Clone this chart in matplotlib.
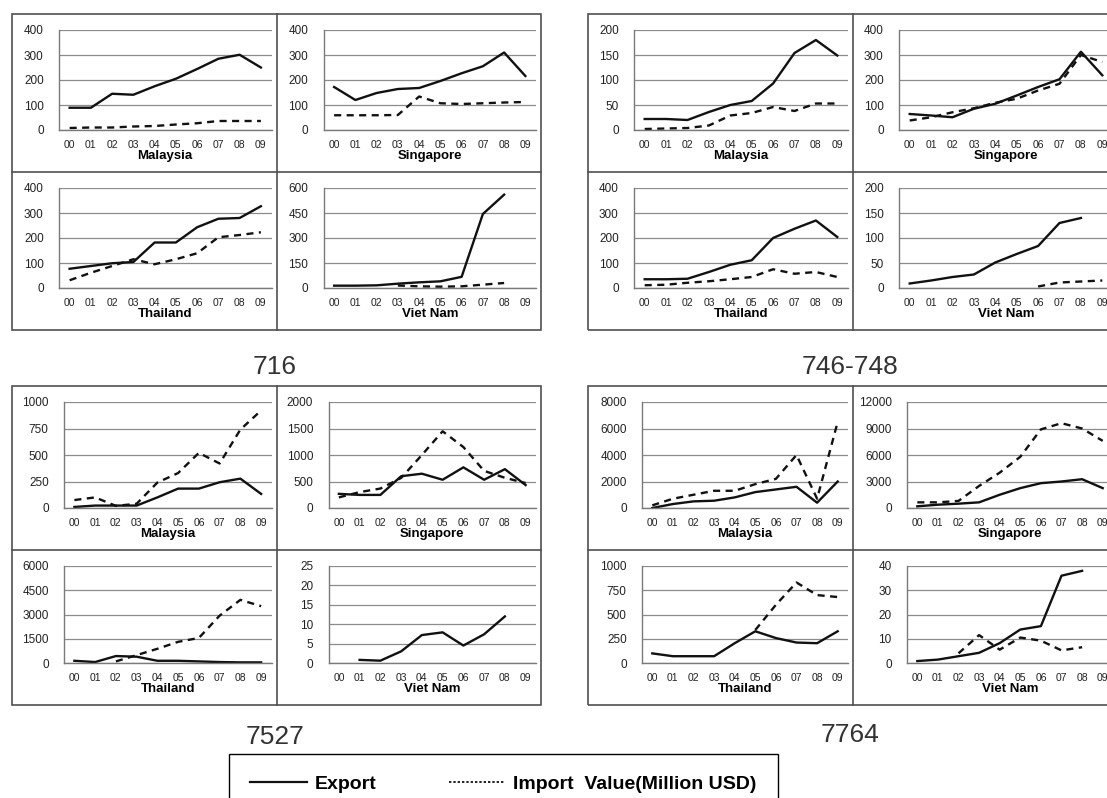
import numpy as np
import matplotlib
matplotlib.use('Agg')
import matplotlib.pyplot as plt
from matplotlib.patches import Rectangle
from matplotlib.lines import Line2D

plt.rcParams['font.family'] = ['Liberation Sans', 'DejaVu Sans']
nan = np.nan

years = ['00', '01', '02', '03', '04', '05', '06', '07', '08', '09']
countries = ['Malaysia', 'Singapore', 'Thailand', 'Viet Nam']
titles = ['716', '746-748', '7527', '7764']

# 716
exp_716_my = [89, 89, 145, 141, 175, 205, 244, 285, 301, 250]
imp_716_my = [8, 10, 10, 14, 16, 22, 27, 36, 36, 36]
exp_716_sg = [172, 120, 148, 164, 168, 196, 227, 255, 310, 216]
imp_716_sg = [59, 59, 59, 60, 134, 107, 104, 107, 110, 112]
exp_716_th = [77, 88, 99, 104, 182, 182, 243, 277, 280, 327]
imp_716_th = [31, 61, 88, 115, 95, 115, 139, 203, 212, 223]
exp_716_vn = [14, 14, 16, 26, 34, 40, 67, 444, 560, nan]
imp_716_vn = [nan, nan, nan, 15, 10, 8, 10, 20, 30, nan]

# 746-748
exp_746_my = [22, 22, 20, 36, 50, 58, 93, 154, 180, 149]
imp_746_my = [2, 3, 4, 9, 29, 34, 46, 38, 53, 53]
exp_746_sg = [64, 58, 51, 85, 105, 138, 172, 203, 313, 219]
imp_746_sg = [38, 51, 71, 87, 109, 125, 158, 185, 300, 272]
exp_746_th = [35, 35, 37, 64, 93, 111, 200, 237, 270, 204]
imp_746_th = [11, 13, 21, 27, 35, 44, 75, 57, 64, 44]
exp_746_vn = [9, 15, 22, 27, 51, 68, 84, 130, 140, nan]
imp_746_vn = [nan, nan, nan, nan, nan, nan, 3, 11, 13, 15]

# 7527
exp_7527_my = [10, 23, 23, 23, 100, 183, 183, 243, 277, 133]
imp_7527_my = [75, 100, 20, 40, 240, 330, 520, 420, 740, 920]
exp_7527_sg = [267, 247, 247, 600, 647, 533, 767, 533, 733, 433]
imp_7527_sg = [200, 300, 367, 567, 1000, 1447, 1150, 700, 570, 470]
exp_7527_th = [137, 59, 430, 390, 137, 137, 98, 59, 39, 39]
imp_7527_th = [nan, nan, 98, 488, 879, 1309, 1550, 2930, 3906, 3516]
exp_7527_vn = [nan, 0.8, 0.6, 3.0, 7.2, 7.9, 4.5, 7.4, 12.0, nan]
imp_7527_vn = [nan] * 10

# 7764
exp_7764_my = [0, 300, 500, 550, 800, 1200, 1400, 1600, 400, 2000]
imp_7764_my = [200, 700, 1000, 1300, 1300, 1800, 2200, 4000, 700, 6500]
exp_7764_sg = [190, 375, 490, 640, 1500, 2250, 2810, 3000, 3260, 2250]
imp_7764_sg = [640, 640, 800, 2500, 4000, 5800, 8900, 9600, 9000, 7600]
exp_7764_th = [99, 70, 70, 70, 204, 327, 257, 211, 204, 327]
imp_7764_th = [nan, nan, nan, nan, nan, 340, 600, 830, 700, 680]
exp_7764_vn = [0.8, 1.4, 2.8, 4.2, 8.2, 13.8, 15.2, 36, 38, nan]
imp_7764_vn = [nan, nan, 4, 11.5, 5.5, 10.5, 9.2, 5.2, 6.5, nan]

exports = [[exp_716_my, exp_716_sg, exp_716_th, exp_716_vn],
           [exp_746_my, exp_746_sg, exp_746_th, exp_746_vn],
           [exp_7527_my, exp_7527_sg, exp_7527_th, exp_7527_vn],
           [exp_7764_my, exp_7764_sg, exp_7764_th, exp_7764_vn]]
imports = [[imp_716_my, imp_716_sg, imp_716_th, imp_716_vn],
           [imp_746_my, imp_746_sg, imp_746_th, imp_746_vn],
           [imp_7527_my, imp_7527_sg, imp_7527_th, imp_7527_vn],
           [imp_7764_my, imp_7764_sg, imp_7764_th, imp_7764_vn]]
y_max = [[400, 400, 400, 600], [200, 400, 400, 200],
         [1000, 2000, 6000, 25], [8000, 12000, 1000, 40]]
y_step = [[100, 100, 100, 150], [50, 100, 100, 50],
          [250, 500, 1500, 5], [2000, 3000, 250, 10]]

W, H = 1107, 798
fig = plt.figure(figsize=(W / 100, H / 100), dpi=100)


def fx(x):
    return x / W


def fy(y):
    return 1 - y / H


def fig_line(x0, y0, x1, y1, **kw):
    fig.add_artist(Line2D([fx(x0), fx(x1)], [fy(y0), fy(y1)], transform=fig.transFigure, **kw))


# group boxes: left, top, width, row heights, y-label room, title position
groups = [
    (12, 14, 529, (158, 158), 47, (275, 367)),
    (588, 14, 530, (158, 158), 46, (850, 367)),
    (12, 386, 529, (164, 155), 52, (275, 737)),
    (588, 386, 530, (164, 155), 54, (850, 735)),
]
box_col = '#505050'

for g, (gx, gy, gw, (rh1, rh2), lpad, (tx, ty)) in enumerate(groups):
    gh = rh1 + rh2
    fig.add_artist(Rectangle((fx(gx), fy(gy + gh)), gw / W, gh / H, transform=fig.transFigure,
                             fill=False, edgecolor=box_col, lw=1.2))
    cw = gw / 2
    fig_line(gx + cw, gy, gx + cw, gy + gh, color=box_col, lw=1.2)
    fig_line(gx, gy + rh1, gx + gw, gy + rh1, color=box_col, lw=1.2)
    fig.text(fx(tx), fy(ty), titles[g], ha='center', va='center', fontsize=19, color='#333333')

    for k in range(4):
        r, c = divmod(k, 2)
        cx0 = gx + c * cw
        cx1 = cx0 + cw
        cy0 = gy if r == 0 else gy + rh1
        cy1 = cy0 + (rh1 if r == 0 else rh2)
        left, right = cx0 + lpad, cx1 - 5
        top, bottom = cy0 + 16, cy1 - 42
        ax = fig.add_axes([fx(left), fy(bottom), (right - left) / W, (bottom - top) / H])
        x = np.arange(10)
        ax.plot(x, exports[g][k], color='#111111', lw=1.7, solid_joinstyle='round')
        ax.plot(x, imports[g][k], color='#111111', lw=1.7, dashes=(3, 2.3))
        ax.set_xlim(-0.5, 9.5)
        ax.set_ylim(0, y_max[g][k])
        ax.set_yticks(np.arange(0, y_max[g][k] + 0.1, y_step[g][k]))
        ax.set_xticks(x)
        ax.set_xticklabels(years)
        ax.grid(axis='y', color='#8c8c8c', lw=0.9)
        ax.set_axisbelow(True)
        for s in ['top', 'right']:
            ax.spines[s].set_visible(False)
        for s in ['left', 'bottom']:
            ax.spines[s].set_color('#7a7a7a')
            ax.spines[s].set_linewidth(1.0)
        ax.tick_params(axis='y', length=0, pad=11, labelsize=8.5, labelcolor='#222222')
        ax.tick_params(axis='x', length=0, pad=7, labelsize=7.5, labelcolor='#222222')
        ax.set_xlabel(countries[k], fontsize=9.5, fontweight='bold', labelpad=0)
        ax.patch.set_alpha(0)

h_exp = Line2D([], [], color='#111111', lw=1.6)
h_imp = Line2D([], [], color='#111111', lw=1.3, dashes=(1.3, 1.1))
fig.legend([h_exp, h_imp], ['Export', 'Import  Value(Million USD)'],
           loc='upper left', bbox_to_anchor=(fx(229), fy(754) - 0.07, 549 / W, 0.07),
           mode='expand', ncol=2, prop={'weight': 'bold', 'size': 14},
           handlelength=2.9, handletextpad=0.4, borderaxespad=0, borderpad=1.1,
           fancybox=False, edgecolor='black', framealpha=1)

fig.savefig('out.png', dpi=100)
